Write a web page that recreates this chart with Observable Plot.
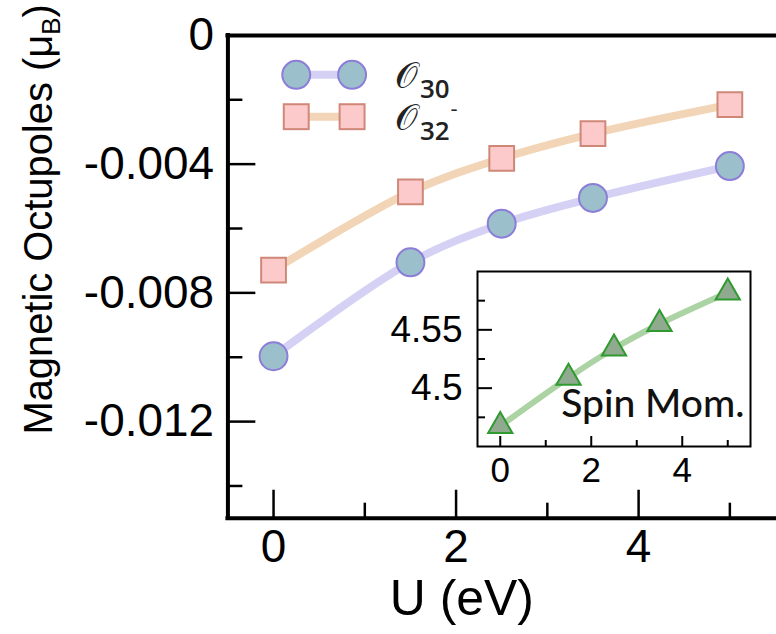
<!DOCTYPE html>
<html><head><meta charset="utf-8">
<script src="https://cdn.jsdelivr.net/npm/d3@7"></script>
<script src="https://cdn.jsdelivr.net/npm/@observablehq/plot@0.6"></script>
<style>
html,body{margin:0;padding:0;background:#fff;overflow:hidden;width:776px;height:634px}
#wrap{position:relative;width:776px;height:634px;overflow:hidden}
#main{position:absolute;left:0;top:0}
#inset{position:absolute;left:387px;top:261px}
</style></head><body><div id="wrap"><div id="main"></div><div id="inset"></div></div>
<script>
// ---- data ----
const U = [0, 1.5, 2.5, 3.5, 5];
const o30 = [-0.00997, -0.00705, -0.00585, -0.00505, -0.00406];
const o32 = [-0.00729, -0.00486, -0.00382, -0.00305, -0.00215];
const spinMom = [4.4675, 4.509, 4.534, 4.555, 4.582];
const xMajor = [0, 2, 4];
const xMinor = [1, 3, 5];
const yMajor = [-0.012, -0.008, -0.004, 0];
const yMinor = [-0.014, -0.010, -0.006, -0.002];
const insetXMajor = [0, 2, 4];
const insetXMinor = [1, 3, 5];
const insetYMajor = [4.5, 4.55];
const insetYMinor = [4.475, 4.525, 4.575];
const seriesNames = ["30", "32"];

const d30 = U.map((u, i) => ({u, v: o30[i]}));
const d32 = U.map((u, i) => ({u, v: o32[i]}));
const dSpin = U.map((u, i) => ({u, v: spinMom[i]}));

const C30 = {line: "#d5d1f4", fill: "#9cbfcc", stroke: "#8c7dd8"};
const C32 = {line: "#f2d5b6", fill: "#fccaca", stroke: "#cf8878"};
const CS = {line: "#acd3a4", fill: "#90aa90", stroke: "#2f9a2f"};

// ---- main plot ----
const W = 778, H = 634, ML = 228, MR = 1, MT = 35, MB = 115;
const PW = W - ML - MR, PH = H - MT - MB;
const main = Plot.plot({
  width: W, height: H, marginLeft: ML, marginRight: MR, marginTop: MT, marginBottom: MB,
  x: {domain: [-0.5, 5.5]},
  y: {domain: [-0.015, 0]},
  style: {fontFamily: "'Liberation Sans', Arial, sans-serif", background: "transparent", color: "#000"},
  marks: [
    Plot.tickX(xMajor, {x: d => d, insetTop: PH - 28, strokeWidth: 2.5}),
    Plot.tickX(xMinor, {x: d => d, insetTop: PH - 15, strokeWidth: 2.5}),
    Plot.tickY(yMajor, {y: d => d, insetRight: PW - 28, strokeWidth: 2.5}),
    Plot.tickY(yMinor, {y: d => d, insetRight: PW - 15, strokeWidth: 2.5}),
    Plot.axisX({ticks: xMajor, tickSize: 0, tickPadding: 11, fontSize: 46, label: null, tickFormat: d => String(d)}),
    Plot.axisY({ticks: yMajor, tickSize: 0, tickPadding: 14, fontSize: 46, label: null,
      tickFormat: d => d === 0 ? "0" : d.toFixed(3)}),
    Plot.line(d30, {x: "u", y: "v", stroke: C30.line, strokeWidth: 8, curve: "catmull-rom"}),
    Plot.line(d32, {x: "u", y: "v", stroke: C32.line, strokeWidth: 8, curve: "catmull-rom"}),
    Plot.dot(d32, {x: "u", y: "v", symbol: "square", r: 14, fill: C32.fill, stroke: C32.stroke, strokeWidth: 2}),
    Plot.dot(d30, {x: "u", y: "v", r: 14, fill: C30.fill, stroke: C30.stroke, strokeWidth: 2}),
    Plot.ruleX([-0.5], {strokeWidth: 4, strokeLinecap: "square"}),
    Plot.ruleY([-0.015, 0], {strokeWidth: 4, strokeLinecap: "square"}),
    Plot.text(["U (eV)"], {frameAnchor: "bottom", dx: -40, dy: 97, fontSize: 50, fill: "#000"})
  ]
});
document.getElementById("main").appendChild(main);

const svg = d3.select(main);
// y axis title with subscript
const yt = svg.append("text")
  .attr("transform", "translate(52,220) rotate(-90)")
  .attr("text-anchor", "middle")
  .attr("font-size", 40)
  .attr("fill", "#000");
yt.append("tspan").text("Magnetic Octupoles (μ");
yt.append("tspan").attr("font-size", 26).attr("dy", 8).text("B");
yt.append("tspan").attr("dy", -8).text(")");

// legend
const lg = svg.append("g").attr("text-anchor", "start");
const rows = [
  {y: 75, c: C30, sym: "circle", name: seriesNames[0], minus: false},
  {y: 117, c: C32, sym: "square", name: seriesNames[1], minus: true}
];
rows.forEach(r => {
  lg.append("line").attr("x1", 297).attr("x2", 353).attr("y1", r.y).attr("y2", r.y)
    .attr("stroke", r.c.line).attr("stroke-width", 8);
  [297, 353].forEach(x => {
    if (r.sym === "circle") {
      lg.append("circle").attr("cx", x).attr("cy", r.y).attr("r", 14)
        .attr("fill", r.c.fill).attr("stroke", r.c.stroke).attr("stroke-width", 2);
    } else {
      lg.append("rect").attr("x", x - 12.5).attr("y", r.y - 12.5).attr("width", 25).attr("height", 25)
        .attr("fill", r.c.fill).attr("stroke", r.c.stroke).attr("stroke-width", 2);
    }
  });
  const t = lg.append("text").attr("x", 396).attr("y", r.y + 13).attr("fill", "#222")
    .attr("text-anchor", "start")
    .attr("font-family", "'DejaVu Serif', serif").attr("font-size", 36);
  t.append("tspan").text("𝒪");
  t.append("tspan").attr("font-family", "'Open Sans', sans-serif").attr("font-weight", 600)
    .attr("font-size", 26).attr("dx", 2).attr("dy", 10).text(r.name);
  if (r.minus) t.append("tspan").attr("font-family", "'Open Sans', sans-serif").attr("font-size", 22)
    .attr("dx", 1).attr("dy", -24).text("-");
});

// ---- inset plot ----
const IW = 373, IH = 240, IML = 90, IMR = 10, IMT = 10, IMB = 55;
const IPW = IW - IML - IMR, IPH = IH - IMT - IMB;
const inset = Plot.plot({
  width: IW, height: IH, marginLeft: IML, marginRight: IMR, marginTop: IMT, marginBottom: IMB,
  x: {domain: [-0.5, 5.5]},
  y: {domain: [4.45, 4.6]},
  style: {fontFamily: "'Liberation Sans', Arial, sans-serif", background: "transparent", color: "#000"},
  marks: [
    Plot.frame({fill: "white"}),
    Plot.tickX(insetXMajor, {x: d => d, insetTop: IPH - 10, strokeWidth: 2}),
    Plot.tickX(insetXMinor, {x: d => d, insetTop: IPH - 6, strokeWidth: 2}),
    Plot.tickY(insetYMajor, {y: d => d, insetRight: IPW - 15, strokeWidth: 2}),
    Plot.tickY(insetYMinor, {y: d => d, insetRight: IPW - 8, strokeWidth: 2}),
    Plot.axisX({ticks: insetXMajor, tickSize: 0, tickPadding: 11, fontSize: 35, label: null, tickFormat: d => String(d)}),
    Plot.axisY({ticks: insetYMajor, tickSize: 0, tickPadding: 15, fontSize: 37, label: null,
      tickFormat: d => String(d)}),
    Plot.line(dSpin, {x: "u", y: "v", stroke: CS.line, strokeWidth: 6, curve: "catmull-rom"}),
    Plot.dot(dSpin, {x: "u", y: "v", symbol: "triangle", r: 9, fill: CS.fill, stroke: CS.stroke, strokeWidth: 2}),
    Plot.text(["Spin Mom."], {frameAnchor: "bottom-right", textAnchor: "end", dx: -6, dy: -30,
      fontSize: 39, fontWeight: 500, fontFamily: "Lato, 'Open Sans', sans-serif", fill: "#111"}),
    Plot.frame({stroke: "#000", strokeWidth: 2})
  ]
});
document.getElementById("inset").appendChild(inset);
</script></body></html>
